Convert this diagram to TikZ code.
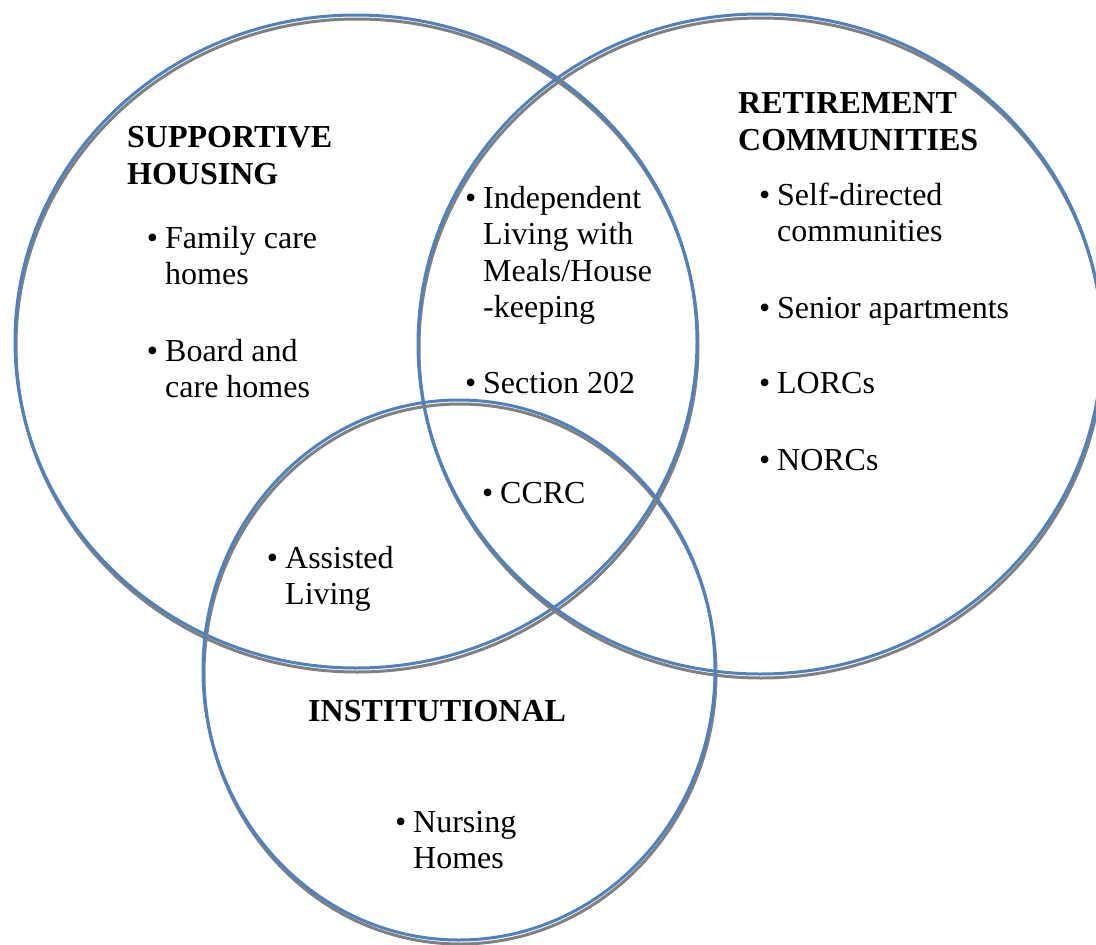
\documentclass[tikz,border=0pt]{standalone}
\usepackage{fontspec}
\setmainfont{Liberation Serif}
\usetikzlibrary{positioning}
\definecolor{ringblue}{RGB}{79,129,189}
\definecolor{ringgray}{RGB}{128,128,128}
\newcommand{\lines}[1]{\begin{tabular}[t]{@{}l@{}}#1\end{tabular}}
\newcommand{\itm}[1]{\lines{\llap{\textbullet\hspace{7pt}}#1}}

\begin{document}
\begin{tikzpicture}[x=1pt,y=-1pt,
  ring/.style={draw=ringblue,line width=3pt},
  shade/.style={draw=ringgray,line width=3pt},
  head/.style={anchor=base west,inner sep=0pt,font=\fontsize{32}{37}\selectfont\bfseries},
  item/.style={anchor=base west,inner sep=0pt,font=\fontsize{32}{36.5}\selectfont}]

  \useasboundingbox (0,0) rectangle (1096,945);

  % Kreise
  \draw[shade] (357,345.5) ellipse [x radius=341pt,y radius=326.5pt];
  \draw[ring]  (356,341.5) ellipse [x radius=341pt,y radius=326.5pt];
  \draw[shade] (761,348) ellipse [x radius=342pt,y radius=330pt];
  \draw[ring]  (760,344) ellipse [x radius=342pt,y radius=330pt];
  \draw[shade] (460,674) ellipse [x radius=256pt,y radius=270pt];
  \draw[ring]  (459,670) ellipse [x radius=256pt,y radius=270pt];

  % Ueberschriften
  \node[head] (SH)  at (127,147) {\lines{SUPPORTIVE\\HOUSING}};
  \node[head] (RC)  at (738,113) {\lines{RETIREMENT\\COMMUNITIES}};
  \node[head] (INS) at (308,721) {INSTITUTIONAL};

  % Supportive Housing
  \node[item] (FCH) at (165,248) {\itm{Family care\\homes}};
  \node[item] (BCH) at (165,361) {\itm{Board and\\care homes}};

  % Schnittmengen
  \node[item] (ILM)  at (483,208) {\itm{Independent\\Living with\\Meals/House\\-keeping}};
  \node[item] (S202) at (483,393) {\itm{Section 202}};
  \node[item] (CCRC) at (500,503) {\itm{CCRC}};
  \node[item] (AL)   at (285,568) {\itm{Assisted\\Living}};

  % Retirement Communities
  \node[item] (SDC) at (777,205) {\itm{Self-directed\\communities}};
  \node[item] (SA)  at (777,318) {\itm{Senior apartments}};
  \node[item] (LO)  at (777,393) {\itm{LORCs}};
  \node[item] (NO)  at (777,470) {\itm{NORCs}};

  % Institutional
  \node[item] (NH) at (413,832) {\itm{Nursing\\Homes}};

\end{tikzpicture}
\end{document}
